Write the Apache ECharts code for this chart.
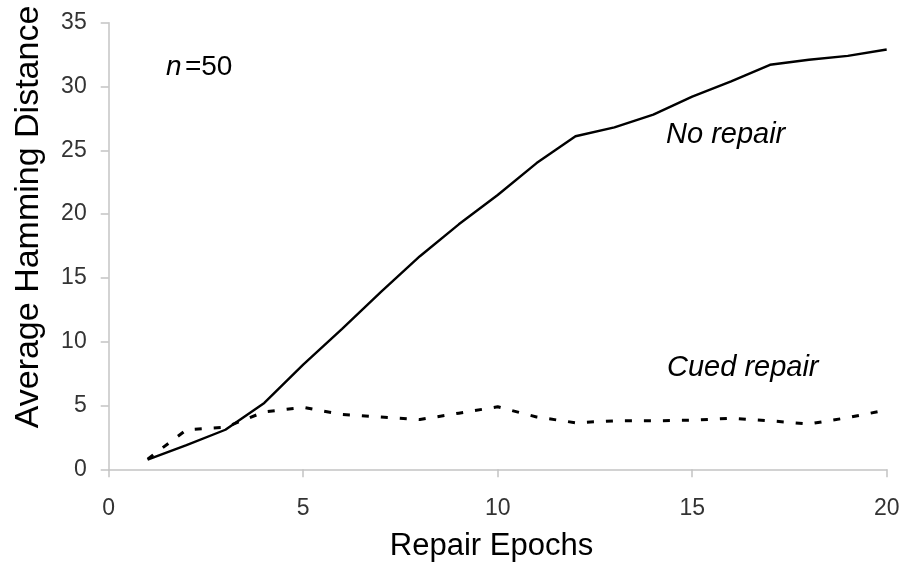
<!DOCTYPE html>
<html>
<head>
<meta charset="utf-8">
<script src="https://cdn.jsdelivr.net/npm/echarts@6/dist/echarts.min.js"></script>
<style>
html,body{margin:0;padding:0;background:#fff;}
#chart{width:904px;height:573px;}
</style>
</head>
<body>
<div id="chart"></div>
<script>
var epochs = [1,2,3,4,5,6,7,8,9,10,11,12,13,14,15,16,17,18,19,20];
var noRepair = [0.75,1.9,3.1,5.2,8.2,11.0,13.9,16.7,19.2,21.5,24.0,26.1,26.8,27.8,29.2,30.4,31.7,32.1,32.4,32.9];
var cuedRepair = [0.8,3.1,3.3,4.5,4.85,4.3,4.1,3.9,4.4,4.9,4.1,3.65,3.8,3.8,3.85,4.0,3.8,3.55,4.05,4.65];
var xTicks = [0,5,10,15,20];
var yTicks = [0,5,10,15,20,25,30,35];

var FONT = '"Liberation Sans", Arial, Helvetica, sans-serif';
var chart = echarts.init(document.getElementById('chart'), null, {renderer:'canvas'});

function pairs(xs, ys){ return xs.map(function(x,i){ return [x, ys[i]]; }); }

var option = {
  backgroundColor:'#ffffff',
  animation:false,
  grid:{left:108.7, right:17.3, top:22.7, bottom:103.7, containLabel:false},
  xAxis:{
    type:'value', min:xTicks[0], max:xTicks[xTicks.length-1], interval:5,
    axisLine:{show:true, lineStyle:{color:'#c4c4c4', width:1.5}},
    axisTick:{show:true, length:8, inside:false, lineStyle:{color:'#c4c4c4', width:1.5}},
    axisLabel:{margin:28, color:'#333', fontSize:23, fontFamily:FONT},
    splitLine:{show:false}
  },
  yAxis:{
    type:'value', min:yTicks[0], max:yTicks[yTicks.length-1], interval:5,
    axisLine:{show:true, lineStyle:{color:'#c4c4c4', width:1.5}},
    axisTick:{show:true, length:8, inside:false, lineStyle:{color:'#c4c4c4', width:1.5}},
    axisLabel:{margin:22, color:'#333', fontSize:23, fontFamily:FONT},
    splitLine:{show:false}
  },
  series:[
    {name:'No repair', type:'line', data:pairs(epochs,noRepair), showSymbol:false, symbol:'none',
     lineStyle:{color:'#000', width:2.4}, z:3},
    {name:'Cued repair', type:'line', data:pairs(epochs,cuedRepair), showSymbol:false, symbol:'none',
     lineStyle:{color:'#000', width:3, type:[7,12]}, z:2}
  ],
  graphic:[
    {type:'text', x:491.5, y:546, style:{text:'Repair Epochs', font:'31px '+FONT, fill:'#000', textAlign:'center', textVerticalAlign:'middle'}},
    {type:'text', x:29, y:217, rotation:Math.PI/2, style:{text:'Average Hamming Distance', font:'34px '+FONT, fill:'#000', textAlign:'center', textVerticalAlign:'middle'}},
    {type:'text', x:166, y:67.5, style:{
      text:'{i|n} {r|=50}', textVerticalAlign:'middle', textAlign:'left',
      rich:{i:{fontStyle:'italic', fontSize:28, fontFamily:FONT, color:'#000'},
            r:{fontSize:28, fontFamily:FONT, color:'#000'}}
    }},
    {type:'text', x:666, y:135, style:{text:'No repair', font:'italic 29px '+FONT, fill:'#000', textAlign:'left', textVerticalAlign:'middle'}},
    {type:'text', x:667, y:368, style:{text:'Cued repair', font:'italic 29px '+FONT, fill:'#000', textAlign:'left', textVerticalAlign:'middle'}}
  ]
};
chart.setOption(option);
</script>
</body>
</html>
